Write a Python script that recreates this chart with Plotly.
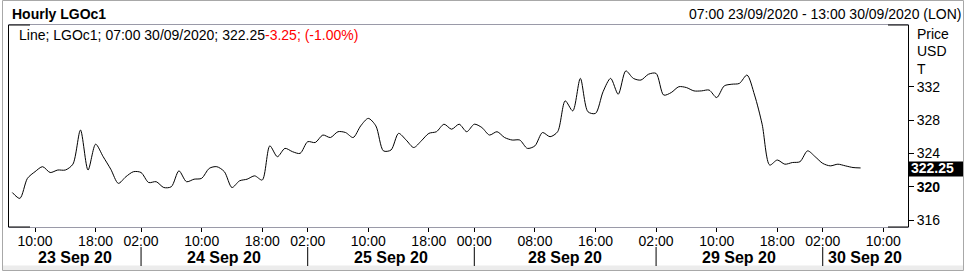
import plotly.graph_objects as go

# ---------------- data ----------------
# hourly bars (trading hours only), 07:00 23/09/2020 .. 07:00 30/09/2020
sessions = [
    ("23/09/2020", list(range(7, 23))),
    ("24/09/2020", list(range(1, 23))),
    ("25/09/2020", list(range(1, 23))),
    ("27/09/2020", [23]),
    ("28/09/2020", list(range(0, 23))),
    ("29/09/2020", list(range(1, 23))),
    ("30/09/2020", list(range(1, 8))),
]
bar_times = [f"{h:02d}:00 {d}" for d, hrs in sessions for h in hrs]

prices = [
    319.3, 318.6, 321.0, 321.8, 322.4, 321.7, 322.0, 322.0, 322.7, 326.8,
    322.0, 325.1, 323.6, 322.1, 320.4, 321.2, 321.8, 321.7, 320.5, 320.6,
    319.9, 320.0, 321.9, 320.6, 320.9, 321.0, 322.2, 322.4, 321.8, 319.9,
    320.7, 320.9, 321.3, 320.8, 324.9, 323.6, 324.6, 324.2, 324.0, 325.4,
    325.3, 326.2, 325.9, 326.6, 326.5, 325.9, 327.3, 328.2, 327.3, 324.3,
    324.4, 326.4, 325.6, 324.7, 325.5, 326.4, 326.6, 327.5, 326.9, 327.5,
    326.6, 327.5, 327.1, 326.2, 326.6, 325.9, 325.6, 325.6, 324.6, 324.9,
    326.5, 326.0, 326.6, 330.3, 329.1, 333.0, 329.0, 328.8, 331.4, 333.0,
    331.1, 333.9, 333.0, 332.8, 333.5, 333.6, 331.0, 331.3, 332.0, 331.9,
    331.5, 331.5, 331.6, 330.7, 332.1, 332.3, 332.4, 333.4, 331.0, 327.5,
    322.6, 323.2, 322.7, 322.9, 323.0, 324.3, 323.6, 322.8, 322.5, 322.7,
    322.5, 322.3, 322.25,
]
last_value = 322.25

# x-axis hour ticks (bar index -> label)
tick_idx = [3, 11, 17, 25, 33, 39, 47, 55, 61, 69, 77, 85, 93, 101, 107, 115]
tick_text = ["10:00", "18:00", "02:00", "10:00", "18:00", "02:00", "10:00", "18:00",
             "00:00", "08:00", "16:00", "02:00", "10:00", "18:00", "02:00", "10:00"]
# day separators and labels
day_sep_idx = [17, 39, 61, 85, 107]
day_labels = ["23 Sep 20", "24 Sep 20", "25 Sep 20", "28 Sep 20", "29 Sep 20", "30 Sep 20"]

# y-axis ticks
y_ticks = [316, 320, 324, 328, 332]
y_tick_text = ["316", "<b>320</b>", "324", "328", "332"]

# ---------------- layout geometry ----------------
W, H = 967, 273
L, R, T, B = 9, 908, 25, 227
X_RANGE = [-0.436, 118.26]
Y_RANGE = [315.16, 339.41]
FONT = "Liberation Sans, Arial, sans-serif"


def px(x):
    return (x - L) / (R - L)


def py(y):
    return (B - y) / (B - T)


fig = go.Figure()
fig.add_trace(go.Scatter(
    x=list(range(len(prices))), y=prices, text=bar_times,
    mode="lines", line=dict(color="black", width=1, shape="spline", smoothing=0.8),
    hovertemplate="%{text}<br>%{y}<extra></extra>", showlegend=False,
))

shapes = []
# outer window border and bottom band
shapes.append(dict(type="rect", xref="paper", yref="paper", x0=px(2), x1=px(963), y0=py(265.5), y1=py(270),
                   fillcolor="#ececec", line=dict(width=0), layer="below"))
shapes.append(dict(type="rect", xref="paper", yref="paper", x0=px(2.5), x1=px(963.5), y0=py(270.5), y1=py(0.5),
                   fillcolor="rgba(0,0,0,0)", line=dict(color="#a8a8a8", width=1)))
# black corner segments of frame
for (a, b_, yy) in [(9, 30, 25), (888, 908, 25), (9, 30, 227), (888, 908, 227)]:
    shapes.append(dict(type="line", xref="paper", yref="paper", x0=px(a), x1=px(b_), y0=py(yy), y1=py(yy),
                       line=dict(color="black", width=1)))
# day separators
for s in day_sep_idx:
    shapes.append(dict(type="line", xref="x", yref="paper", x0=s, x1=s, y0=py(247), y1=py(266),
                       line=dict(color="black", width=1)))
# last value box
shapes.append(dict(type="rect", xref="paper", yref="paper", x0=px(908), x1=px(963), y0=py(176.5), y1=py(161.5),
                   fillcolor="black", line=dict(width=0)))

annotations = []
annotations.append(dict(text="<b>Hourly LGOc1</b>", xref="paper", yref="paper", x=px(10), y=py(14),
                        xanchor="left", yanchor="middle", showarrow=False, font=dict(size=14, color="black")))
annotations.append(dict(text="07:00 23/09/2020 - 13:00 30/09/2020 (LON)", xref="paper", yref="paper",
                        x=px(962.5), y=py(14), xanchor="right", yanchor="middle", showarrow=False,
                        font=dict(size=14, color="black")))
annotations.append(dict(
    text="Line; LGOc1; 07:00 30/09/2020; 322.25<span style='color:#ff0000'>-3.25; (-1.00%)</span>",
    xref="paper", yref="paper", x=px(16.5), y=py(34.5), xanchor="left", yanchor="middle",
    showarrow=False, font=dict(size=14, color="black")))
for i, t in enumerate(["Price", "USD", "T"]):
    annotations.append(dict(text=t, xref="paper", yref="paper", x=px(914.5), y=py(33.5 + 17.8 * i),
                            xanchor="left", yanchor="middle", showarrow=False,
                            font=dict(size=14, color="black")))
annotations.append(dict(text=f"<b>{last_value:.2f}</b>", xref="paper", yref="y", x=px(909), y=last_value,
                        xanchor="left", yanchor="middle", showarrow=False,
                        font=dict(size=14, color="white")))
# day labels centred between separators
edges = [X_RANGE[0]] + day_sep_idx + [X_RANGE[1]]
for i, lab in enumerate(day_labels):
    annotations.append(dict(text=f"<b>{lab}</b>", xref="x", yref="paper", x=(edges[i] + edges[i + 1]) / 2,
                            y=py(257), xanchor="center", yanchor="middle", showarrow=False,
                            font=dict(size=16, color="black")))

fig.update_layout(
    width=W, height=H,
    margin=dict(l=L, r=W - R, t=T, b=H - B, pad=0),
    paper_bgcolor="white", plot_bgcolor="white",
    font=dict(family=FONT, size=14, color="black"),
    shapes=shapes, annotations=annotations,
    hovermode="closest",
    xaxis=dict(range=X_RANGE, tickmode="array", tickvals=tick_idx, ticktext=tick_text,
               ticks="outside", ticklen=4, tickcolor="black", tickwidth=1,
               ticklabelstandoff=-3,
               showgrid=False, zeroline=False, showline=True, linecolor="#9a9aa8", linewidth=1,
               mirror=True, tickfont=dict(size=14, color="black"), fixedrange=True),
    yaxis=dict(range=Y_RANGE, side="right", tickmode="array", tickvals=y_ticks, ticktext=y_tick_text,
               ticks="outside", ticklen=5, tickcolor="black", tickwidth=1,
               showgrid=False, zeroline=False, showline=True, linecolor="black", linewidth=1,
               mirror=True, tickfont=dict(size=14, color="black"), fixedrange=True),
)

fig.write_html("out.html", config={"displayModeBar": False})
